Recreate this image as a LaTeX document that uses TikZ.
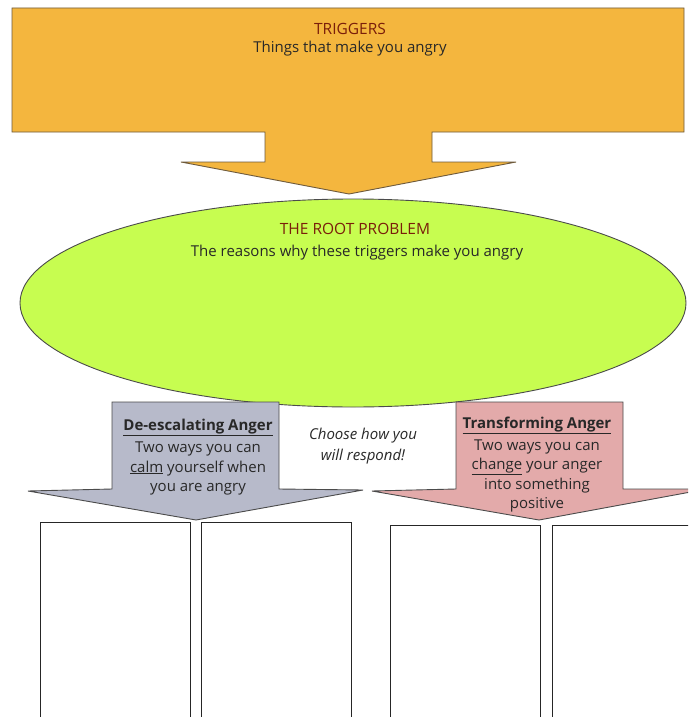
\documentclass[tikz,border=0pt]{standalone}
\usepackage{fontspec}
\setmainfont{Open Sans}
\usetikzlibrary{shapes.geometric}
\definecolor{orangefill}{RGB}{244,182,62}
\definecolor{orangeline}{RGB}{110,90,60}
\definecolor{greenfill}{RGB}{199,253,80}
\definecolor{greyfill}{RGB}{183,186,202}
\definecolor{pinkfill}{RGB}{227,170,170}
\definecolor{shapeline}{RGB}{75,75,75}
\definecolor{titlered}{RGB}{122,30,10}
\definecolor{bodytext}{RGB}{40,40,40}
\tikzset{
  shapeborder/.style={draw=shapeline, line width=0.9pt, line join=miter},
  titletext/.style={text=titlered, font=\fontsize{15.5}{18}\selectfont, inner sep=0pt},
  plaintext/.style={text=bodytext, font=\fontsize{15}{18}\selectfont, inner sep=0pt},
  armtext/.style={text=bodytext, align=center, inner sep=0pt,
    font=\fontsize{15}{19.5}\selectfont},
  answerbox/.style={draw=black!85, line width=0.8pt, fill=white, anchor=north west,
    minimum width=150pt, minimum height=220pt, inner sep=0pt}
}
\begin{document}
\begin{tikzpicture}[x=1pt, y=-1pt]
\clip (0,0) rectangle (688,717);
\fill[white] (0,0) rectangle (688,717);
% Triggers arrow
\draw[shapeborder, draw=orangeline, fill=orangefill]
  (12,8) -- (684,8) -- (684,132) -- (432,132) -- (432,162) -- (516,162)
  -- (349,194) -- (181,162) -- (265,162) -- (265,132) -- (12,132) -- cycle;
\node[titletext] (trig) at (350,29) {TRIGGERS};
\node[plaintext] (trigsub) at (350,49) {Things that make you angry};
% Root problem ellipse
\node[ellipse, shapeborder, fill=greenfill, minimum width=666pt, minimum height=208pt,
  inner sep=0pt] (root) at (353,303) {};
\node[titletext] (roottitle) at (355,229) {THE ROOT PROBLEM};
\node[plaintext] (rootsub) at (357,253) {The reasons why these triggers make you angry};
% De-escalating arrow
\draw[shapeborder, fill=greyfill]
  (112,402) -- (279,402) -- (279,489) -- (363,490) -- (196,520) -- (28,491)
  -- (112,489) -- cycle;
\node[armtext, anchor=north] (deesc) at (198,418.5)
  {\textbf{\underline{De-escalating Anger}}\\[3pt]Two ways you can\\\underline{calm} yourself when\\you are angry};
% Transforming arrow
\draw[shapeborder, fill=pinkfill]
  (456,402) -- (623,402) -- (623,489) -- (707,489) -- (539,520) -- (372,491)
  -- (456,489) -- cycle;
\node[armtext, anchor=north] (transf) at (537,417)
  {\textbf{\underline{Transforming Anger}}\\[2pt]Two ways you can\\\underline{change} your anger\\into something\\positive};
% Middle text
\node[armtext, anchor=north, font=\fontsize{15}{20.5}\selectfont\itshape] (choose) at (363,428)
  {Choose how you\\will respond!};
% Answer boxes
\node[answerbox] (box1) at (40,522) {};
\node[answerbox] (box2) at (201,522) {};
\node[answerbox] (box3) at (390,525) {};
\node[answerbox] (box4) at (552,525) {};
\end{tikzpicture}
\end{document}
